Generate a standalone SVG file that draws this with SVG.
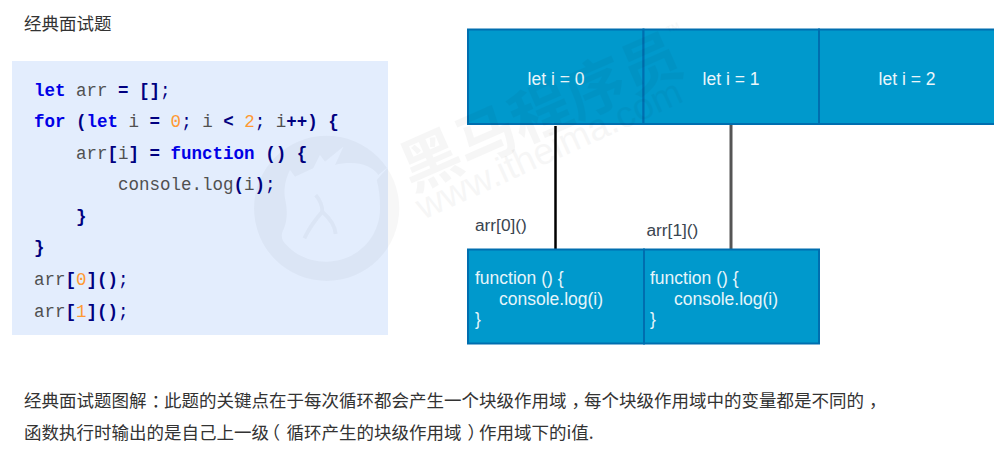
<svg xmlns="http://www.w3.org/2000/svg" width="994" height="455" viewBox="0 0 994 455">
<style>
text{font-family:"Liberation Sans","Noto Sans CJK SC",sans-serif}
.cn{font-size:17.5px;fill:#333;font-family:"Noto Sans CJK SC",sans-serif}
.p{font-feature-settings:"halt"}
.code{font-family:"Liberation Mono",monospace;font-size:17.5px;fill:#505050;white-space:pre}
.k{fill:#0000e6;font-weight:bold}
.o{fill:#000080;font-weight:bold}
.s{fill:#000080}
.n{fill:#ff9933}
.box{fill:#0099cc;stroke:#006eaf;stroke-width:2}
.w{fill:#eaf6fb;font-size:17.5px}
.b{fill:#e6f5fa;font-size:17.5px}
.l{fill:#3a4550;font-size:17.3px}
.wm{fill:#000;opacity:.03}
</style>
<rect width="994" height="455" fill="#fff"/>
<text id="title" class="cn" x="24" y="30">经典面试题</text>
<g id="code-panel">
<rect x="12" y="61" width="376" height="274" fill="#e3edfd"/>
<text class="code" x="34" y="96"><tspan class="k">let</tspan> arr <tspan class="o">=</tspan> <tspan class="o">[]</tspan><tspan class="s">;</tspan></text>
<text class="code" x="34" y="127"><tspan class="k">for</tspan> <tspan class="o">(</tspan><tspan class="k">let</tspan> i <tspan class="o">=</tspan> <tspan class="n">0</tspan><tspan class="s">;</tspan> i <tspan class="o">&lt;</tspan> <tspan class="n">2</tspan><tspan class="s">;</tspan> i<tspan class="o">++)</tspan> <tspan class="o">{</tspan></text>
<text class="code" x="76" y="159">arr<tspan class="o">[</tspan>i<tspan class="o">]</tspan> <tspan class="o">=</tspan> <tspan class="k">function</tspan> <tspan class="o">()</tspan> <tspan class="o">{</tspan></text>
<text class="code" x="118" y="190">console.log<tspan class="o">(</tspan>i<tspan class="o">)</tspan><tspan class="s">;</tspan></text>
<text class="code o" x="76" y="222">}</text>
<text class="code o" x="34" y="253">}</text>
<text class="code" x="34" y="285">arr<tspan class="o">[</tspan><tspan class="n">0</tspan><tspan class="o">]()</tspan><tspan class="s">;</tspan></text>
<text class="code" x="34" y="317">arr<tspan class="o">[</tspan><tspan class="n">1</tspan><tspan class="o">]()</tspan><tspan class="s">;</tspan></text>
</g>
<g id="connectors">
<line x1="555.5" y1="126" x2="555.5" y2="249" stroke="#000" stroke-width="2.5"/>
<line x1="731" y1="124" x2="731" y2="249" stroke="#555" stroke-width="3"/>
</g>
<g id="scope-0"><rect class="box" x="468" y="29.500" width="175.500" height="94.500"/><text class="w" x="556" y="85" text-anchor="middle">let i = 0</text></g>
<g id="scope-1"><rect class="box" x="643.500" y="29.500" width="175.500" height="94.500"/><text class="w" x="731" y="85" text-anchor="middle">let i = 1</text></g>
<g id="scope-2"><rect class="box" x="819" y="29.500" width="185" height="94.500"/><text class="w" x="907" y="85" text-anchor="middle">let i = 2</text></g>
<g id="fn-0"><rect class="box" x="468" y="249.500" width="176" height="94"/><text class="b"><tspan x="475" y="284">function () {</tspan><tspan x="499" y="305">console.log(i)</tspan><tspan x="475" y="325">}</tspan></text></g>
<g id="fn-1"><rect class="box" x="644" y="249.500" width="175" height="94"/><text class="b"><tspan x="650" y="284">function () {</tspan><tspan x="674" y="305">console.log(i)</tspan><tspan x="650" y="325">}</tspan></text></g>
<text id="label-0" class="l" x="475" y="231">arr[0]()</text>
<text id="label-1" class="l" x="646.500" y="236">arr[1]()</text>
<text class="cn" x="24" y="407">经典面试题图解<tspan class="p" dx="5" letter-spacing="3.750">：</tspan>此题的关键点在于每次循环都会产生一个块级作用域<tspan class="p" dx="5" letter-spacing="3.750">，</tspan>每个块级作用域中的变量都是不同的<tspan class="p" dx="5" letter-spacing="3.750">，</tspan></text>
<text class="cn" x="24" y="439">函数执行时输出的是自己上一级<tspan class="p" dx="2.250" letter-spacing="6.500">（</tspan>循环产生的块级作用域<tspan class="p" dx="6" letter-spacing="2.750">）</tspan>作用域下的i值.</text>
<g id="watermark">
<g transform="translate(245 130) scale(.3333)">
<path fill="#000" fill-rule="evenodd" opacity=".03" d="M27 235A218 218 0 1 0 463 235A218 218 0 1 0 27 235ZM130 350C112 335 105 320 115 300C128 270 128 240 120 205C115 170 125 140 135 120L150 140L205 115L225 75L240 95L295 50L270 105C330 90 380 105 400 135L430 110L395 150C402 175 405 205 405 235A160 160 0 0 1 245 395C200 395 160 380 130 350Z"/>
<path fill="none" stroke="#000" stroke-width="12" opacity=".03" d="M212 195C225 210 232 225 232 245C210 270 190 300 178 325M232 245C255 265 270 285 272 312"/>
</g>
<text class="wm" transform="translate(412 192) rotate(-23.700)" font-size="60" font-weight="bold" style="font-family:'Noto Sans CJK SC',sans-serif">黑马程序员</text>
<text class="wm" transform="translate(668 33) rotate(-23.700)" font-size="9" style="font-family:'Liberation Sans',sans-serif">TM</text>
<text class="wm" transform="translate(423 220) rotate(-24.400)" font-size="37" style="font-family:'Liberation Sans',sans-serif">www.itheima.com</text>
</g>
</svg>
